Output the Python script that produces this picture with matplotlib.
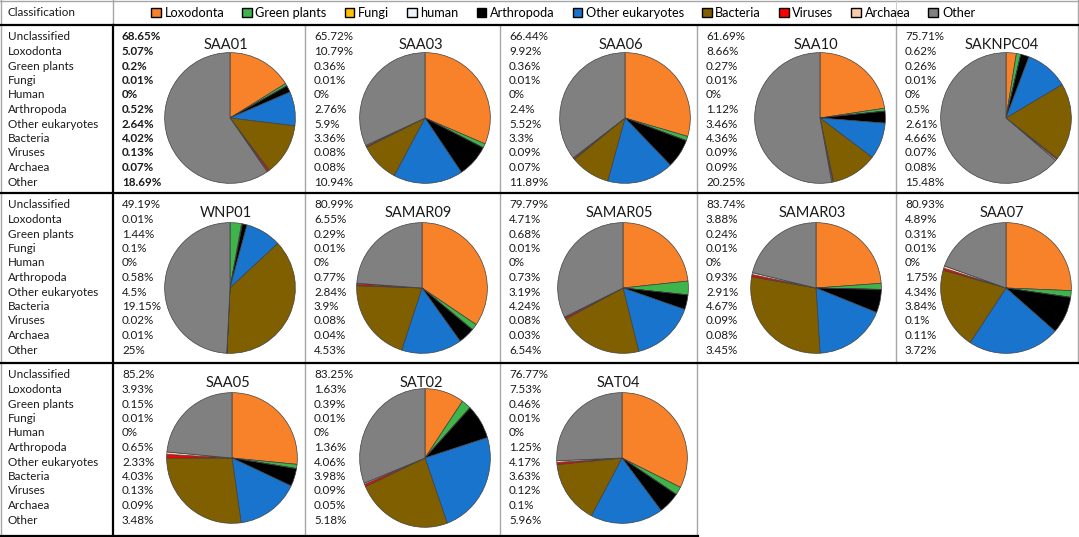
import matplotlib
matplotlib.use("Agg")
import matplotlib.pyplot as plt
from matplotlib.patches import Patch

plt.rcParams['font.family'] = ['Lato', 'DejaVu Sans']

# data
samples = ['SAA01', 'SAA03', 'SAA06', 'SAA10', 'SAKNPC04',
           'WNP01', 'SAMAR09', 'SAMAR05', 'SAMAR03', 'SAA07',
           'SAA05', 'SAT02', 'SAT04']
row_labels = ['Unclassified', 'Loxodonta', 'Green plants', 'Fungi', 'Human', 'Arthropoda',
              'Other eukaryotes', 'Bacteria', 'Viruses', 'Archaea', 'Other']
legend_labels = ['Loxodonta', 'Green plants', 'Fungi', 'human', 'Arthropoda',
                 'Other eukaryotes', 'Bacteria', 'Viruses', 'Archaea', 'Other']

unclassified = [68.65, 65.72, 66.44, 61.69, 75.71, 49.19, 80.99, 79.79, 83.74, 80.93, 85.2, 83.25, 76.77]
loxodonta = [5.07, 10.79, 9.92, 8.66, 0.62, 0.01, 6.55, 4.71, 3.88, 4.89, 3.93, 1.63, 7.53]
green_plants = [0.2, 0.36, 0.36, 0.27, 0.26, 1.44, 0.29, 0.68, 0.24, 0.31, 0.15, 0.39, 0.46]
fungi = [0.01, 0.01, 0.01, 0.01, 0.01, 0.1, 0.01, 0.01, 0.01, 0.01, 0.01, 0.01, 0.01]
human = [0, 0, 0, 0, 0, 0, 0, 0, 0, 0, 0, 0, 0]
arthropoda = [0.52, 2.76, 2.4, 1.12, 0.5, 0.58, 0.77, 0.73, 0.93, 1.75, 0.65, 1.36, 1.25]
other_euk = [2.64, 5.9, 5.52, 3.46, 2.61, 4.5, 2.84, 3.19, 2.91, 4.34, 2.33, 4.06, 4.17]
bacteria = [4.02, 3.36, 3.3, 4.36, 4.66, 19.15, 3.9, 4.24, 4.67, 3.84, 4.03, 3.98, 3.63]
viruses = [0.13, 0.08, 0.09, 0.09, 0.07, 0.02, 0.08, 0.08, 0.09, 0.1, 0.13, 0.09, 0.12]
archaea = [0.07, 0.08, 0.07, 0.09, 0.08, 0.01, 0.04, 0.03, 0.08, 0.11, 0.09, 0.05, 0.1]
other = [18.69, 10.94, 11.89, 20.25, 15.48, 25, 4.53, 6.54, 3.45, 3.72, 3.48, 5.18, 5.96]

colors = ['#F7822A', '#3DB54A', '#FFC000', '#EEF3FA', '#000000',
          '#1874CD', '#7F5F00', '#FF0000', '#F8CBAD', '#808080']

all_rows = [unclassified, loxodonta, green_plants, fungi, human, arthropoda,
            other_euk, bacteria, viruses, archaea, other]

W, H = 1079, 537
fig = plt.figure(figsize=(W / 100, H / 100), dpi=100)
bg = fig.add_axes([0, 0, 1, 1])
bg.set_xlim(0, W)
bg.set_ylim(H, 0)
bg.axis('off')

col_x = [113, 305, 500, 697, 896, 1078]
row_y = [25, 193, 363, 536]
gray = '#A6A6A6'

# grid lines
bg.plot([0, W], [0.5, 0.5], color=gray, lw=1)
bg.plot([0.5, 0.5], [0, 536], color=gray, lw=1)
bg.plot([1078, 1078], [0, 363], color=gray, lw=1)
bg.plot([113, 113], [0, 25], color=gray, lw=1)
bg.plot([896, 896], [0, 25], color='#D0D0D0', lw=0.8)
for x in col_x[1:5]:
    bg.plot([x, x], [25, 363], color=gray, lw=1)
for x in col_x[1:4]:
    bg.plot([x, x], [363, 536], color=gray, lw=1)
bg.plot([0, W], [25, 25], color='black', lw=1.6)
bg.plot([0, W], [193, 193], color='black', lw=1.6)
bg.plot([0, W], [363, 363], color='black', lw=1.6)
bg.plot([0, 698], [536, 536], color='black', lw=1.6)
bg.plot([113, 113], [25, 536], color='black', lw=1.6)

fs = 8.4
txt_col = '#1a1a1a'
bg.text(8, 13, 'Classification', fontsize=fs, va='center', ha='left', color=txt_col)

# row labels
for r in range(3):
    for i, lab in enumerate(row_labels):
        bg.text(8, row_y[r] + 12 + 14.5 * i, lab, fontsize=fs, va='center', ha='left',
                color=txt_col)

pie_cx = [[230, 425, 625, 820, 1006], [230, 422, 623, 816, 1006], [232, 425, 622]]
pie_cy = [118, 288, 458]
rad = 66

k = 0
for r in range(3):
    for c in range(len(pie_cx[r])):
        left = col_x[c]
        weight = 'bold' if k == 0 else 'normal'
        for i in range(len(all_rows)):
            v = all_rows[i][k]
            bg.text(left + 9, row_y[r] + 12 + 14.5 * i, f'{v:g}%', fontsize=fs,
                    va='center', ha='left', fontweight=weight, color=txt_col)
        cx, cy = pie_cx[r][c], pie_cy[r]
        bg.text(cx - 4, row_y[r] + 20, samples[k], fontsize=10.5, va='center', ha='center',
                color=txt_col)
        ry = 70 if samples[k] == 'SAT02' else rad
        ax = fig.add_axes([(cx - rad) / W, 1 - (cy + ry) / H, 2 * rad / W, 2 * ry / H])
        vals = [row[k] for row in all_rows[1:]]
        ax.pie(vals, colors=colors, startangle=90, counterclock=False,
               wedgeprops=dict(edgecolor='#404040', linewidth=0.5))
        ax.set_aspect('auto')
        ax.set_xlim(-1.01, 1.01)
        ax.set_ylim(-1.01, 1.01)
        k += 1

handles = [Patch(facecolor=col, edgecolor='black', linewidth=1) for col in colors]
fig.legend(handles, legend_labels, ncol=10, loc='center',
           bbox_to_anchor=(563 / W, 1 - 13 / H), frameon=False, fontsize=9.2,
           handlelength=0.75, handleheight=0.75, handletextpad=0.3,
           columnspacing=1.4, borderpad=0)

fig.savefig('out.png', dpi=100)
